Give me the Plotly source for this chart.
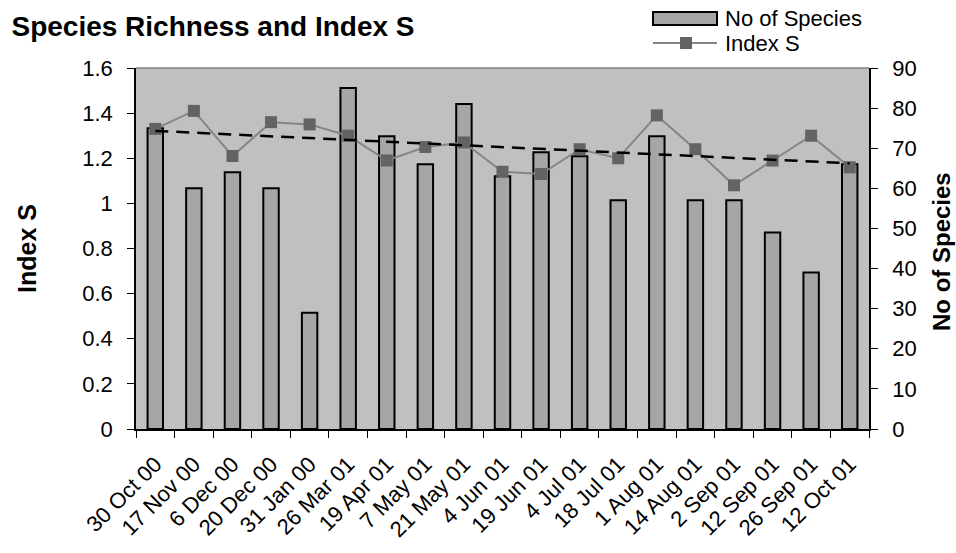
import numpy as np
import plotly.graph_objects as go

# Sampling dates
dates = ["30 Oct 00", "17 Nov 00", "6 Dec 00", "20 Dec 00", "31 Jan 00", "26 Mar 01",
         "19 Apr 01", "7 May 01", "21 May 01", "4 Jun 01", "19 Jun 01", "4 Jul 01",
         "18 Jul 01", "1 Aug 01", "14 Aug 01", "2 Sep 01", "12 Sep 01", "26 Sep 01",
         "12 Oct 01"]

# Number of species recorded on each date (right axis)
species_count = [75, 60, 64, 60, 29, 85, 73, 66, 81, 63, 69, 68, 57, 73, 57, 57, 49, 39, 66]

# Index S on each date (left axis)
index_s = [1.33, 1.41, 1.21, 1.36, 1.35, 1.30, 1.19, 1.25, 1.27, 1.14, 1.13, 1.24,
           1.20, 1.39, 1.24, 1.08, 1.19, 1.30, 1.16]

# Axis tick labels
left_ticks = [0, 0.2, 0.4, 0.6, 0.8, 1.0, 1.2, 1.4, 1.6]
left_tick_text = ["0", "0.2", "0.4", "0.6", "0.8", "1", "1.2", "1.4", "1.6"]
right_ticks = [0, 10, 20, 30, 40, 50, 60, 70, 80, 90]

FONT = "Liberation Sans, Arial, sans-serif"

# Linear trend of Index S across the sampling sequence
pos = np.arange(len(index_s))
slope, intercept = np.polyfit(pos, index_s, 1)
trend = slope * pos + intercept

fig = go.Figure()

fig.add_trace(go.Bar(
    x=dates, y=species_count, name="No of Species", yaxis="y",
    width=0.4,
    marker=dict(color="#A6A6A6", line=dict(color="black", width=2)),
    showlegend=False,
))

fig.add_trace(go.Scatter(
    x=dates, y=index_s, name="Index S", yaxis="y2", mode="lines+markers",
    line=dict(color="#858585", width=2),
    marker=dict(symbol="square", size=12, color="#636363"),
    showlegend=False,
))

fig.add_trace(go.Scatter(
    x=[dates[0], dates[-1]], y=[trend[0], trend[-1]], yaxis="y2", mode="lines",
    line=dict(color="black", width=2.5, dash="13px,8px"),
    showlegend=False, hoverinfo="skip",
))

# Plot-area geometry in pixels, used to place the hand-made legend
L, R, T, B = 136, 869, 68, 429
W, H = R - L, B - T


def px_x(x):
    return (x - L) / W


def px_y(y):
    return (B - y) / H


shapes = [
    # grey top border of the plot area
    dict(type="line", xref="paper", yref="paper", x0=0, x1=1, y0=1, y1=1,
         line=dict(color="#808080", width=1.5)),
    # legend key: bar
    dict(type="rect", xref="paper", yref="paper",
         x0=px_x(653), x1=px_x(717), y0=px_y(25), y1=px_y(12),
         fillcolor="#A6A6A6", line=dict(color="black", width=2)),
    # legend key: line with marker
    dict(type="line", xref="paper", yref="paper",
         x0=px_x(653), x1=px_x(717), y0=px_y(43), y1=px_y(43),
         line=dict(color="#858585", width=2)),
    dict(type="rect", xref="paper", yref="paper",
         x0=px_x(680), x1=px_x(692), y0=px_y(49), y1=px_y(37),
         fillcolor="#636363", line=dict(width=0)),
]

annotations = [
    dict(text="No of Species", xref="paper", yref="paper", x=px_x(723), y=px_y(18),
         xanchor="left", yanchor="middle", showarrow=False,
         font=dict(family=FONT, size=22, color="black")),
    dict(text="Index S", xref="paper", yref="paper", x=px_x(723), y=px_y(43),
         xanchor="left", yanchor="middle", showarrow=False,
         font=dict(family=FONT, size=22, color="black")),
    dict(text="<b>Index S</b>", xref="paper", yref="paper", x=px_x(27), y=px_y(249),
         xanchor="center", yanchor="middle", showarrow=False, textangle=-90,
         font=dict(family=FONT, size=25, color="black")),
    dict(text="<b>No of Species</b>", xref="paper", yref="paper", x=px_x(941), y=px_y(252),
         xanchor="center", yanchor="middle", showarrow=False, textangle=-90,
         font=dict(family=FONT, size=24, color="black")),
]

fig.update_layout(
    width=956, height=553,
    margin=dict(l=L, r=956 - R, t=T, b=553 - B),
    paper_bgcolor="white",
    plot_bgcolor="#C0C0C0",
    font=dict(family=FONT, size=20, color="black"),
    title=dict(text="<b>Species Richness and Index S</b>", x=0.012, xanchor="left",
               xref="container", y=1 - 26 / 553, yanchor="middle", yref="container",
               font=dict(family=FONT, size=28, color="black")),
    bargap=0.6,
    xaxis=dict(type="category", tickangle=-45, showgrid=False, automargin=False,
               showline=True, linecolor="black", linewidth=1.5,
               ticks="outside", ticklen=7, tickcolor="black", tickson="boundaries",
               ticklabelstandoff=12,
               tickfont=dict(family=FONT, size=22, color="black"),
               range=[-0.5, len(dates) - 0.5]),
    yaxis=dict(side="right", range=[0, 90], tickvals=right_ticks, showgrid=False,
               automargin=False, zeroline=False, showline=True, linecolor="black",
               linewidth=1.5, ticks="outside", ticklen=7, tickcolor="black",
               ticklabelstandoff=10,
               tickfont=dict(family=FONT, size=22, color="black")),
    yaxis2=dict(side="left", overlaying="y", range=[0, 1.6], tickvals=left_ticks,
                ticktext=left_tick_text, showgrid=False, zeroline=False,
                automargin=False, showline=True, linecolor="black", linewidth=1.5,
                ticks="outside", ticklen=7, tickcolor="black", ticklabelstandoff=10,
                tickfont=dict(family=FONT, size=22, color="black")),
    shapes=shapes,
    annotations=annotations,
)

fig.write_html("out.html")
